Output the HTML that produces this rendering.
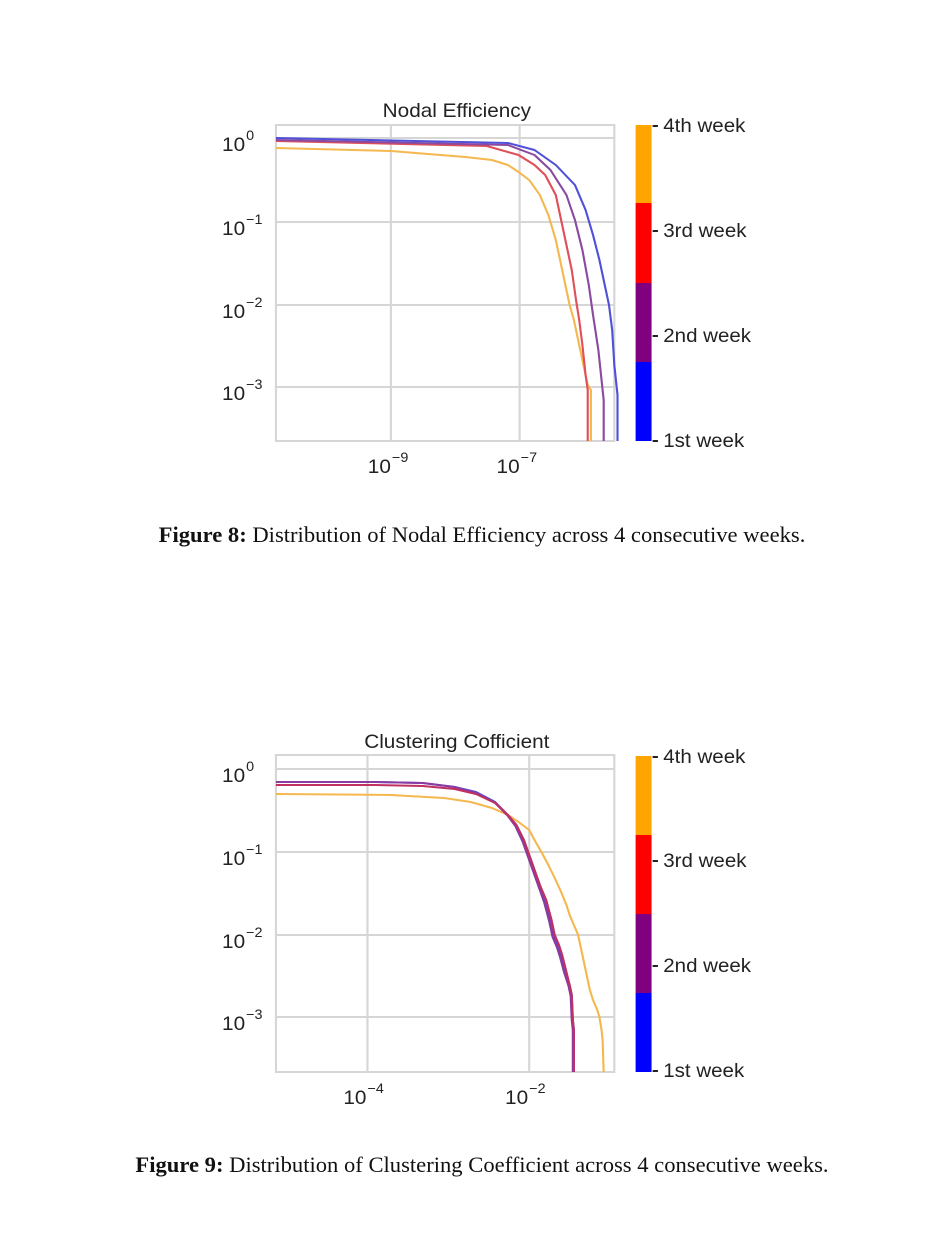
<!DOCTYPE html>
<html><head><meta charset="utf-8"><style>
body{margin:0;background:#fff;width:938px;height:1235px;overflow:hidden}
svg{position:absolute;left:0;top:0}
.cap{position:absolute;left:13px;width:938px;text-align:center;font-family:"Liberation Serif",serif;font-size:22.6px;color:#111;white-space:nowrap}
</style></head><body>
<svg width="938" height="1235" font-family="Liberation Sans, sans-serif" fill="#222">
<!-- Chart 1 -->
<g transform="translate(210,0) scale(1.064,1) translate(-210,0)">
<g stroke="#d6d6d6" stroke-width="2" fill="none">
<rect x="272" y="125" width="318" height="316"/>
<line x1="272" y1="138" x2="590" y2="138"/><line x1="272" y1="222" x2="590" y2="222"/>
<line x1="272" y1="305" x2="590" y2="305"/><line x1="272" y1="387" x2="590" y2="387"/>
<line x1="380" y1="125" x2="380" y2="441"/><line x1="501" y1="125" x2="501" y2="441"/>
</g>
<g fill="none" stroke-width="2" stroke-linejoin="round">
<polyline stroke="#f5b84f" points="272,148 380,151 450,157 475,160 490,165 500,172 510,180 520,195 528,215 535,240 540,265 544,285 548,305 552,320 555,335 558,350 562,370 565,385 568,390 568,441"/>
<polyline stroke="#e0505a" points="272,141 470,146 500,155 515,165 525,175 535,195 540,220 545,245 550,270 554,300 557,320 560,345 563,375 565,390 565,441"/>
<polyline stroke="#8a4aa0" points="272,140 490,145 515,155 530,170 545,195 553,220 560,250 566,285 570,315 575,350 578,380 580,400 580,441"/>
<polyline stroke="#5050d8" points="272,138 490,143 515,150 535,165 553,185 563,210 570,235 576,260 582,290 585,305 588,330 590,365 593,395 593,441"/>
</g>
<text x="442" y="117" font-size="19.5" text-anchor="middle">Nodal Efficiency</text>
<g font-size="19.5" text-anchor="end">
<text x="243" y="151">10</text><text x="243" y="235">10</text><text x="243" y="318">10</text><text x="243" y="400">10</text>
<text x="380" y="473">10</text><text x="501" y="473">10</text>
</g>
<g font-size="13.5">
<text x="244" y="140">0</text><text x="244" y="224">−1</text><text x="244" y="307">−2</text><text x="244" y="389">−3</text>
<text x="381" y="462">−9</text><text x="502" y="462">−7</text>
</g>
<rect x="610" y="125" width="15" height="78" fill="#ffa500"/>
<rect x="610" y="203" width="15" height="80" fill="#ff0000"/>
<rect x="610" y="283" width="15" height="79" fill="#800080"/>
<rect x="610" y="362" width="15" height="79" fill="#0000ff"/>
<g stroke="#222" stroke-width="2"><line x1="626" y1="126" x2="631" y2="126"/><line x1="626" y1="231" x2="631" y2="231"/><line x1="626" y1="336" x2="631" y2="336"/><line x1="626" y1="441" x2="631" y2="441"/></g>
<g font-size="19.3"><text x="636" y="132">4th week</text><text x="636" y="237">3rd week</text><text x="636" y="342">2nd week</text><text x="636" y="447">1st week</text></g>
</g>

<!-- Chart 2 -->
<g transform="translate(210,0) scale(1.064,1) translate(-210,0)">
<g stroke="#d6d6d6" stroke-width="2" fill="none">
<rect x="272" y="755" width="318" height="317"/>
<line x1="272" y1="769" x2="590" y2="769"/><line x1="272" y1="852" x2="590" y2="852"/>
<line x1="272" y1="935" x2="590" y2="935"/><line x1="272" y1="1017" x2="590" y2="1017"/>
<line x1="358" y1="755" x2="358" y2="1072"/><line x1="510" y1="755" x2="510" y2="1072"/>
</g>
<g fill="none" stroke-width="2" stroke-linejoin="round">
<polyline stroke="#f5b84f" points="272,794 380,795 430,798 455,802 475,808 490,815 500,822 510,830 515,840 522,853 528,865 534,878 540,892 545,905 548,915 552,925 556,935 558,945 560,955 562,965 565,980 567,990 570,1000 574,1010 576,1017 578,1030 579,1040 580,1072"/>
<polyline stroke="#5050d8" points="272,782 365,782 410,783 440,787 460,792 478,802 490,815 498,825 505,840 510,855 515,870 520,885 525,900 530,920 533,935 537,945 540,955 544,972 548,985 550,995 551,1020 552,1030 552,1072"/>
<polyline stroke="#8a3aa0" points="272,782 365,782 410,783 440,787 460,793 478,803 490,816 497,826 504,842 509,857 514,872 519,887 524,902 529,922 532,937 536,947 539,957 543,973 547,986 549,996 550,1020 551,1030 551,1072"/>
<polyline stroke="#c03060" points="272,785 365,785 410,786 440,789 460,794 478,803 490,815 498,825 505,840 510,855 515,870 520,885 526,900 531,920 534,935 538,945 541,955 545,972 548,985 550,995 551,1020 552,1030 552,1072"/>
</g>
<text x="442" y="748" font-size="19.5" text-anchor="middle">Clustering Cofficient</text>
<g font-size="19.5" text-anchor="end">
<text x="243" y="782">10</text><text x="243" y="865">10</text><text x="243" y="948">10</text><text x="243" y="1030">10</text>
<text x="357" y="1104">10</text><text x="509" y="1104">10</text>
</g>
<g font-size="13.5">
<text x="244" y="771">0</text><text x="244" y="854">−1</text><text x="244" y="937">−2</text><text x="244" y="1019">−3</text>
<text x="358" y="1093">−4</text><text x="510" y="1093">−2</text>
</g>
<rect x="610" y="756" width="15" height="79" fill="#ffa500"/>
<rect x="610" y="835" width="15" height="79" fill="#ff0000"/>
<rect x="610" y="914" width="15" height="79" fill="#800080"/>
<rect x="610" y="993" width="15" height="79" fill="#0000ff"/>
<g stroke="#222" stroke-width="2"><line x1="626" y1="757" x2="631" y2="757"/><line x1="626" y1="861" x2="631" y2="861"/><line x1="626" y1="966" x2="631" y2="966"/><line x1="626" y1="1071" x2="631" y2="1071"/></g>
<g font-size="19.3"><text x="636" y="763">4th week</text><text x="636" y="867">3rd week</text><text x="636" y="972">2nd week</text><text x="636" y="1077">1st week</text></g>
</g>
</svg>
<div class="cap" style="top:522px"><b>Figure 8:</b> Distribution of Nodal Efficiency across 4 consecutive weeks.</div>
<div class="cap" style="top:1152px"><b>Figure 9:</b> Distribution of Clustering Coefficient across 4 consecutive weeks.</div>
</body></html>
